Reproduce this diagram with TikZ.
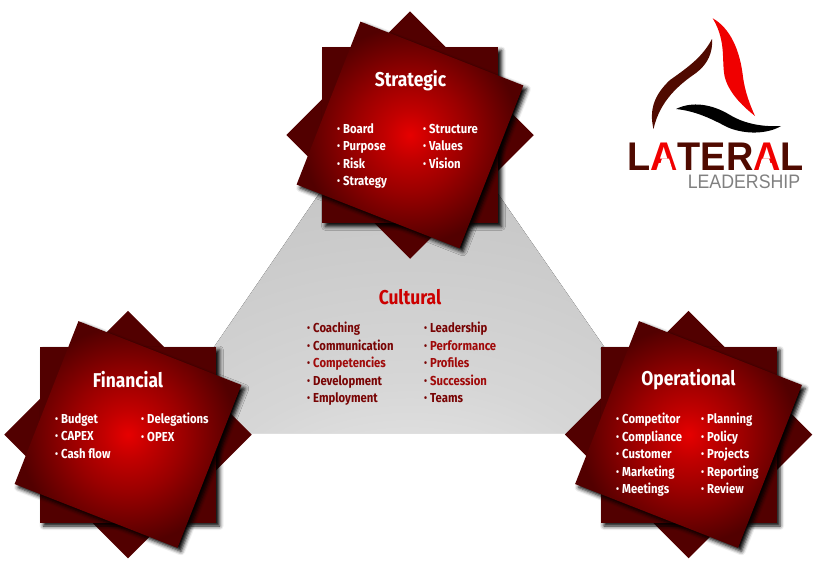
\documentclass[tikz,border=0pt]{standalone}
\usepackage{fontspec}
\usepackage{tikz}
\usetikzlibrary{positioning,shadows.blur}
\newfontfamily\cardfont[FakeStretch=.87]{Fira Sans}
\newfontfamily\logofont[FakeStretch=.947]{Liberation Sans}
\newfontfamily\subfont[FakeStretch=.91]{Liberation Sans}
\definecolor{darkcard}{HTML}{520000}
\definecolor{glowred}{HTML}{E60000}
\definecolor{midred}{HTML}{9A0000}
\definecolor{flamered}{HTML}{F00000}
\definecolor{flamedark}{HTML}{500A00}
\definecolor{subgray}{HTML}{808080}
\definecolor{culturalred}{HTML}{CC0000}
\definecolor{culturalitem}{HTML}{780404}
\definecolor{culturalhot}{HTML}{A00A0A}
\pgfdeclareradialshading{cardglow}{\pgfpointorigin}{%
color(0bp)=(glowred); color(5.5bp)=(glowred!75!darkcard); color(12.5bp)=(midred); color(24bp)=(darkcard); color(100bp)=(darkcard)}
\pgfdeclareradialshading{trianglegrey}{\pgfpoint{0bp}{-50bp}}{%
color(0bp)=(white); color(10bp)=(black!9); color(22bp)=(black!16); color(40bp)=(black!22); color(60bp)=(black!27); color(110bp)=(black!27)}
\newcommand{\blt}{\rule{0pt}{10pt}{\fontsize{10}{10}\selectfont\raisebox{.8pt}{\textbullet}}\hspace{3pt}}
\tikzset{
x=1pt,y=-1pt,
backdiamond/.style={fill=darkcard,rotate=45,minimum size=175pt,inner sep=0pt},
backsquare/.style={fill=darkcard,minimum size=176pt,inner sep=0pt,
  blur shadow={shadow xshift=3.5pt,shadow yshift=-3.5pt,shadow blur radius=4pt,shadow opacity=100}},
frontcard/.style={shading=cardglow,rotate=-21.4,minimum size=175pt,inner sep=0pt,
  blur shadow={shadow xshift=3.5pt,shadow yshift=-3.5pt,shadow blur radius=4pt,shadow opacity=100}},
cardtitle/.style={text=white,inner sep=0pt,font=\cardfont\bfseries\fontsize{20}{24}\selectfont},
cardlist/.style={text=white,inner sep=0pt,anchor=north west,align=left,
  font=\cardfont\bfseries\fontsize{13}{17.5}\selectfont},
culturallist/.style={cardlist,text=culturalitem},
logomask/.style={fill=white}
}
\begin{document}
\begin{tikzpicture}
\useasboundingbox (0,0) rectangle (819,579);

\fill[shading=trianglegrey] (408,64) -- (664,433) -- (155,433) -- cycle;
\node[cardtitle,text=culturalred] (cultural) at (410,297) {Cultural};
\node[culturallist] (culturalleft)  at (307,322) {\blt Coaching\\\blt Communication\\\blt{\color{culturalhot}Competencies}\\\blt Development\\\blt Employment};
\node[culturallist] (culturalright) at (424,322) {\blt Leadership\\\blt{\color{culturalhot}Performance}\\\blt{\color{culturalhot}Profiles}\\\blt{\color{culturalhot}Succession}\\\blt Teams};

\node[backdiamond] (strategicdiamond) at (410,135) {};
\node[backsquare]  (strategicsquare)  at (410,135) {};
\node[frontcard]   (strategiccard)    at (410,135) {};
\node[cardtitle]   (strategic)        at (410.5,81) {Strategic};
\node[cardlist]    (strategicleft)    at (337,123) {\blt Board\\\blt Purpose\\\blt Risk\\\blt Strategy};
\node[cardlist]    (strategicright)   at (423,123) {\blt Structure\\\blt Values\\\blt Vision};

\node[backdiamond] (financialdiamond) at (128,434.5) {};
\node[backsquare]  (financialsquare)  at (128,434.5) {};
\node[frontcard]   (financialcard)    at (128,434.5) {};
\node[cardtitle]   (financial)        at (128,380)   {Financial};
\node[cardlist]    (financialleft)    at (55,413)    {\blt Budget\\\blt CAPEX\\\blt Cash flow};
\node[cardlist]    (financialright)   at (141,413)   {\blt Delegations\\\blt OPEX};

\node[backdiamond] (operationaldiamond) at (688.5,434.5) {};
\node[backsquare]  (operationalsquare)  at (688.5,434.5) {};
\node[frontcard]   (operationalcard)    at (688.5,434.5) {};
\node[cardtitle]   (operational)        at (688.5,380)   {Operational};
\node[cardlist]    (operationalleft)    at (616,413)     {\blt Competitor\\\blt Compliance\\\blt Customer\\\blt Marketing\\\blt Meetings};
\node[cardlist]    (operationalright)   at (701,413)     {\blt Planning\\\blt Policy\\\blt Projects\\\blt Reporting\\\blt Review};

% logo
\fill[flamered] (712.7,18.3) .. controls (730,28) and (740,50) .. (743,77)
  .. controls (745,92) and (750,105) .. (755,116)
  .. controls (745,108) and (730,95) .. (725,78)
  .. controls (721,62) and (727,42) .. cycle;
\fill[flamedark] (712,39) .. controls (713,52) and (708,64) .. (696,73)
  .. controls (680,84) and (660,100) .. (653.5,129)
  .. controls (649,110) and (654,95) .. (670,80)
  .. controls (690,66) and (703,56) .. cycle;
\fill[black] (676,109) .. controls (692,101) and (712,104) .. (730,115)
  .. controls (745,124) and (763,127) .. (781,126)
  .. controls (768,134) and (745,135) .. (727,127)
  .. controls (710,118) and (695,111) .. cycle;
\node[inner sep=0pt,text=flamedark,font=\logofont\bfseries\fontsize{40}{40}\selectfont] (lateral) at (715.5,156.5)
  {L\textcolor{flamered}{A}TER\textcolor{flamered}{A}L};
\node[inner sep=0pt,text=subgray,font=\subfont\fontsize{19.5}{20}\selectfont] (leadership) at (744,182) {LEADERSHIP};
\fill[logomask] (658,171.5) -- (662,158.5) -- (669,158.5) -- (673,171.5) -- cycle;
\fill[logomask] (758,171.5) -- (762,158.5) -- (769,158.5) -- (773,171.5) -- cycle;
\end{tikzpicture}
\end{document}
